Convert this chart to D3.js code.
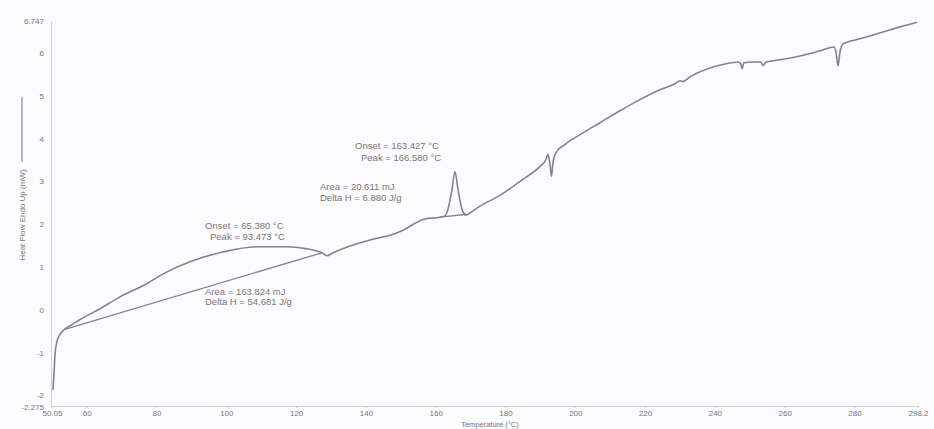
<!DOCTYPE html>
<html><head><meta charset="utf-8">
<script src="https://cdn.jsdelivr.net/npm/d3@7"></script>
<style>
html,body{margin:0;padding:0;background:#fcfbfd;}
svg{display:block;font-family:"Liberation Sans",Arial,sans-serif;}
</style></head>
<body><svg id="c" width="934" height="429"></svg>
<script>
// Temperature (°C)
const temps = [50.34,50.62,50.91,51.48,52.34,53.49,55.78,58.07,63.8,69.53,76.12,82.43,89.59,99.05,108.79,117.38,123.12,125.98,127.41,128.85,130.57,135.44,141.17,146.9,151.2,154.06,156.93,161.23,162.66,163.52,164.67,165.52,166.38,167.53,168.68,169.82,172.69,178.42,184.15,189.88,191.6,192.17,192.74,193.17,193.6,194.46,197.04,201.34,207.07,212.8,218.53,224.26,228.56,230.0,230.85,232.86,238.59,242.89,246.61,247.47,247.76,248.33,251.48,253.2,253.78,254.64,258.65,264.38,270.11,274.12,274.69,275.27,275.84,276.7,281.57,288.16,293.03,297.9];
// Heat Flow Endo Up (mW)
const heatFlow = [-1.88,-1.49,-1.05,-0.74,-0.58,-0.47,-0.35,-0.23,0.02,0.3,0.56,0.86,1.12,1.35,1.47,1.47,1.42,1.37,1.33,1.26,1.33,1.49,1.63,1.74,1.88,2.02,2.12,2.16,2.19,2.35,2.81,3.23,2.81,2.35,2.21,2.26,2.42,2.67,3.0,3.35,3.51,3.63,3.4,3.12,3.44,3.67,3.86,4.09,4.37,4.65,4.91,5.14,5.28,5.35,5.33,5.44,5.65,5.74,5.79,5.74,5.63,5.77,5.79,5.79,5.7,5.79,5.84,5.93,6.05,6.14,6.02,5.7,6.02,6.21,6.33,6.49,6.61,6.72];
// integration baselines
const base1T = [53.49,127.41], base1H = [-0.465,1.33];
const base2T = [161.23,169.0], base2H = [2.163,2.23];
// axis ticks
const xTicks = [50.05,60,80,100,120,140,160,180,200,220,240,260,280,298.2];
const xTickLabels = ["50.05","60","80","100","120","140","160","180","200","220","240","260","280","298.2"];
const yTicks = [-2.275,-2,-1,0,1,2,3,4,5,6,6.747];
const yTickLabels = ["-2.275","-2","-1","0","1","2","3","4","5","6","6.747"];
// annotations
const notes1 = ["Onset = 65.380 °C","Peak = 93.473 °C"];
const notes1b = ["Area = 163.824 mJ","Delta H = 54.681 J/g"];
const notes2 = ["Onset = 163.427 °C","Peak = 166.580 °C"];
const notes2b = ["Area = 20.611 mJ","Delta H = 6.880 J/g"];

const svg = d3.select("#c");
const x = d3.scaleLinear().domain([50.05,298.2]).range([52,918]);
const y = d3.scaleLinear().domain([-2.275,6.747]).range([407,21]);
const lineCol = "#858387", txtCol = "#78767a", axCol = "#d2d0d4";

// axes
const xa = svg.append("g").attr("transform","translate(0,406)")
  .call(d3.axisBottom(x).tickValues(xTicks).tickFormat((d,i)=>xTickLabels[i]).tickSize(2).tickPadding(2));
const ya = svg.append("g").attr("transform","translate(51,0)")
  .call(d3.axisLeft(y).tickValues(yTicks).tickFormat((d,i)=>yTickLabels[i]).tickSize(0).tickPadding(7));
[xa,ya].forEach(g=>{
  g.select(".domain").attr("stroke",axCol);
  g.selectAll(".tick line").attr("stroke",axCol);
  g.selectAll("text").attr("fill",txtCol).attr("font-size",8);
});

svg.append("text").attr("x",490).attr("y",427).attr("text-anchor","middle")
  .attr("fill",txtCol).attr("font-size",7.5).text("Temperature (°C)");
svg.append("text").attr("transform","translate(25,215) rotate(-90)").attr("text-anchor","middle")
  .attr("fill",txtCol).attr("font-size",8).text("Heat Flow Endo Up (mW)");
svg.append("line").attr("x1",22).attr("x2",22).attr("y1",97).attr("y2",162)
  .attr("stroke","#8a888c").attr("stroke-width",1.2);

// curve
const data = temps.map((t,i)=>[t,heatFlow[i]]);
const line = d3.line().x(d=>x(d[0])).y(d=>y(d[1])).curve(d3.curveMonotoneX);
svg.append("path").datum(data).attr("d",line).attr("fill","none")
  .attr("stroke",lineCol).attr("stroke-width",1.6).attr("stroke-linejoin","round");

// baselines
[[base1T,base1H],[base2T,base2H]].forEach(([t,h])=>{
  svg.append("line").attr("x1",x(t[0])).attr("y1",y(h[0])).attr("x2",x(t[1])).attr("y2",y(h[1]))
    .attr("stroke",lineCol).attr("stroke-width",1.3);
});

function notes(arr, xs, ys){
  arr.forEach((s,i)=>svg.append("text").attr("x",xs[i]).attr("y",ys[i])
    .attr("fill",txtCol).attr("font-size",9.5).text(s));
}
notes(notes1,[205,210],[229,240]);
notes(notes1b,[205,205],[295,305]);
notes(notes2,[355,361],[149,161]);
notes(notes2b,[320,320],[190,201]);
</script></body></html>
